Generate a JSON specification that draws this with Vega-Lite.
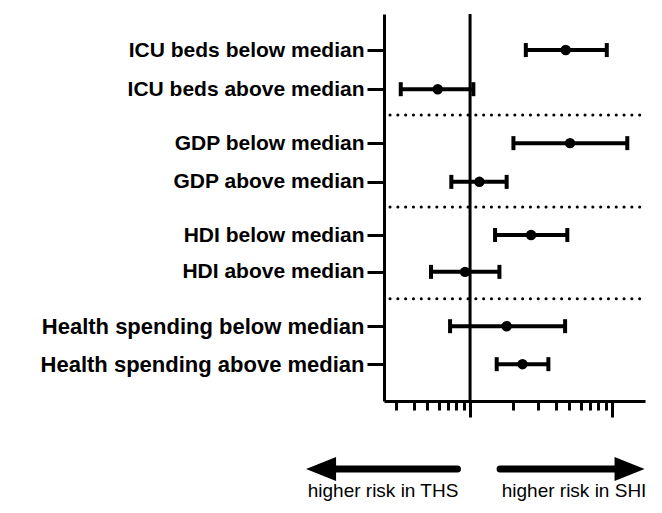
{
  "$schema": "https://vega.github.io/schema/vega-lite/v6.json",
  "width": 261,
  "height": 387,
  "autosize": {"type": "none"},
  "padding": {"left": 384, "top": 14, "right": 17, "bottom": 112},
  "background": "white",
  "config": {
    "view": {"stroke": null},
    "axis": {"grid": false, "domainColor": "black", "tickColor": "black", "domainWidth": 3, "tickWidth": 3, "title": null}
  },
  "datasets": {
    "rows": [
      {"label": "ICU beds below median", "row": 0, "est": 4.72, "lo": 2.47, "hi": 9.18},
      {"label": "ICU beds above median", "row": 1.03, "est": 0.592, "lo": 0.325, "hi": 1.055},
      {"label": "GDP below median", "row": 2.45, "est": 5.06, "lo": 2.02, "hi": 12.8},
      {"label": "GDP above median", "row": 3.47, "est": 1.163, "lo": 0.738, "hi": 1.81},
      {"label": "HDI below median", "row": 4.87, "est": 2.69, "lo": 1.5, "hi": 4.84},
      {"label": "HDI above median", "row": 5.84, "est": 0.922, "lo": 0.531, "hi": 1.61},
      {"label": "Health spending below median", "row": 7.27, "est": 1.81, "lo": 0.723, "hi": 4.67},
      {"label": "Health spending above median", "row": 8.27, "est": 2.34, "lo": 1.54, "hi": 3.56}
    ],
    "separators": [
      {"row": 1.71, "from": 0.273, "to": 17.06},
      {"row": 4.13, "from": 0.273, "to": 17.06},
      {"row": 6.55, "from": 0.273, "to": 17.06}
    ],
    "arrows": [
      {"side": "THS", "from": 0.1033, "to": 0.815, "head": 0.0893, "row": 11.03, "text": "higher risk in THS", "textx": 0.2439, "textrow": 11.6},
      {"side": "SHI", "from": 1.627, "to": 11.38, "head": 13.28, "row": 11.03, "text": "higher risk in SHI", "textx": 5.4, "textrow": 11.6}
    ]
  },
  "encoding": {
    "y": {
      "type": "quantitative",
      "scale": {"domain": [-0.95, 9.24], "reverse": true, "nice": false, "zero": false}
    }
  },
  "layer": [
    {
      "data": {"name": "rows"},
      "mark": {"type": "rule", "color": "black", "strokeWidth": 4},
      "encoding": {
        "x": {
          "field": "lo", "type": "quantitative",
          "scale": {"type": "log", "domain": [0.2477, 17.06], "nice": false},
          "axis": {
            "values": [0.3, 0.4, 0.5, 0.6, 0.7, 0.8, 0.9, 1, 2, 3, 4, 5, 6, 7, 8, 9, 10],
            "labels": false,
            "tickSize": {"condition": {"test": "datum.value == 1 || datum.value == 10", "value": 16}, "value": 9}
          }
        },
        "x2": {"field": "hi"},
        "y": {
          "field": "row",
          "axis": {
            "values": [0, 1.03, 2.45, 3.47, 4.87, 5.84, 7.27, 8.27],
            "labelExpr": "datum.value == 0 ? 'ICU beds below median' : datum.value == 1.03 ? 'ICU beds above median' : datum.value == 2.45 ? 'GDP below median' : datum.value == 3.47 ? 'GDP above median' : datum.value == 4.87 ? 'HDI below median' : datum.value == 5.84 ? 'HDI above median' : datum.value == 7.27 ? 'Health spending below median' : 'Health spending above median'",
            "labelFont": "Liberation Sans",
            "labelFontSize": {"condition": {"test": "datum.value > 7", "value": 22}, "value": 21},
            "labelFontWeight": "bold",
            "labelColor": "black",
            "labelPadding": 3,
            "labelLimit": 0,
            "tickSize": 17
          }
        }
      }
    },
    {
      "data": {"name": "rows"},
      "mark": {"type": "tick", "orient": "vertical", "color": "black", "opacity": 1, "thickness": 4, "size": 14},
      "encoding": {"x": {"field": "lo", "type": "quantitative"}, "y": {"field": "row"}}
    },
    {
      "data": {"name": "rows"},
      "mark": {"type": "tick", "orient": "vertical", "color": "black", "opacity": 1, "thickness": 4, "size": 14},
      "encoding": {"x": {"field": "hi", "type": "quantitative"}, "y": {"field": "row"}}
    },
    {
      "data": {"name": "rows"},
      "mark": {"type": "point", "shape": "circle", "filled": true, "color": "black", "opacity": 1, "size": 110},
      "encoding": {"x": {"field": "est", "type": "quantitative"}, "y": {"field": "row"}}
    },
    {
      "data": {"values": [{"ref": 1}]},
      "mark": {"type": "rule", "color": "black", "strokeWidth": 3},
      "encoding": {"x": {"field": "ref", "type": "quantitative"}, "y": null}
    },
    {
      "data": {"name": "separators"},
      "mark": {"type": "rule", "color": "black", "strokeWidth": 3, "strokeCap": "round", "strokeDash": [0.1, 7.7]},
      "encoding": {"x": {"field": "from", "type": "quantitative"}, "x2": {"field": "to"}, "y": {"field": "row"}}
    },
    {
      "data": {"name": "arrows"},
      "mark": {"type": "rule", "color": "black", "strokeWidth": 7, "strokeCap": "round"},
      "encoding": {"x": {"field": "from", "type": "quantitative"}, "x2": {"field": "to"}, "y": {"field": "row"}}
    },
    {
      "data": {"name": "arrows"},
      "mark": {"type": "point", "filled": true, "color": "black", "opacity": 1, "size": 900},
      "encoding": {
        "x": {"field": "head", "type": "quantitative"},
        "y": {"field": "row"},
        "shape": {"field": "side", "type": "nominal", "scale": {"domain": ["THS", "SHI"], "range": ["M -1 0 L 1 -0.8 L 1 0.8 Z", "M 1 0 L -1 -0.8 L -1 0.8 Z"]}, "legend": null}
      }
    },
    {
      "data": {"name": "arrows"},
      "mark": {"type": "text", "font": "Liberation Sans", "fontSize": 19, "color": "black", "baseline": "middle", "align": "center"},
      "encoding": {"x": {"field": "textx", "type": "quantitative"}, "y": {"field": "textrow"}, "text": {"field": "text"}}
    }
  ]
}
